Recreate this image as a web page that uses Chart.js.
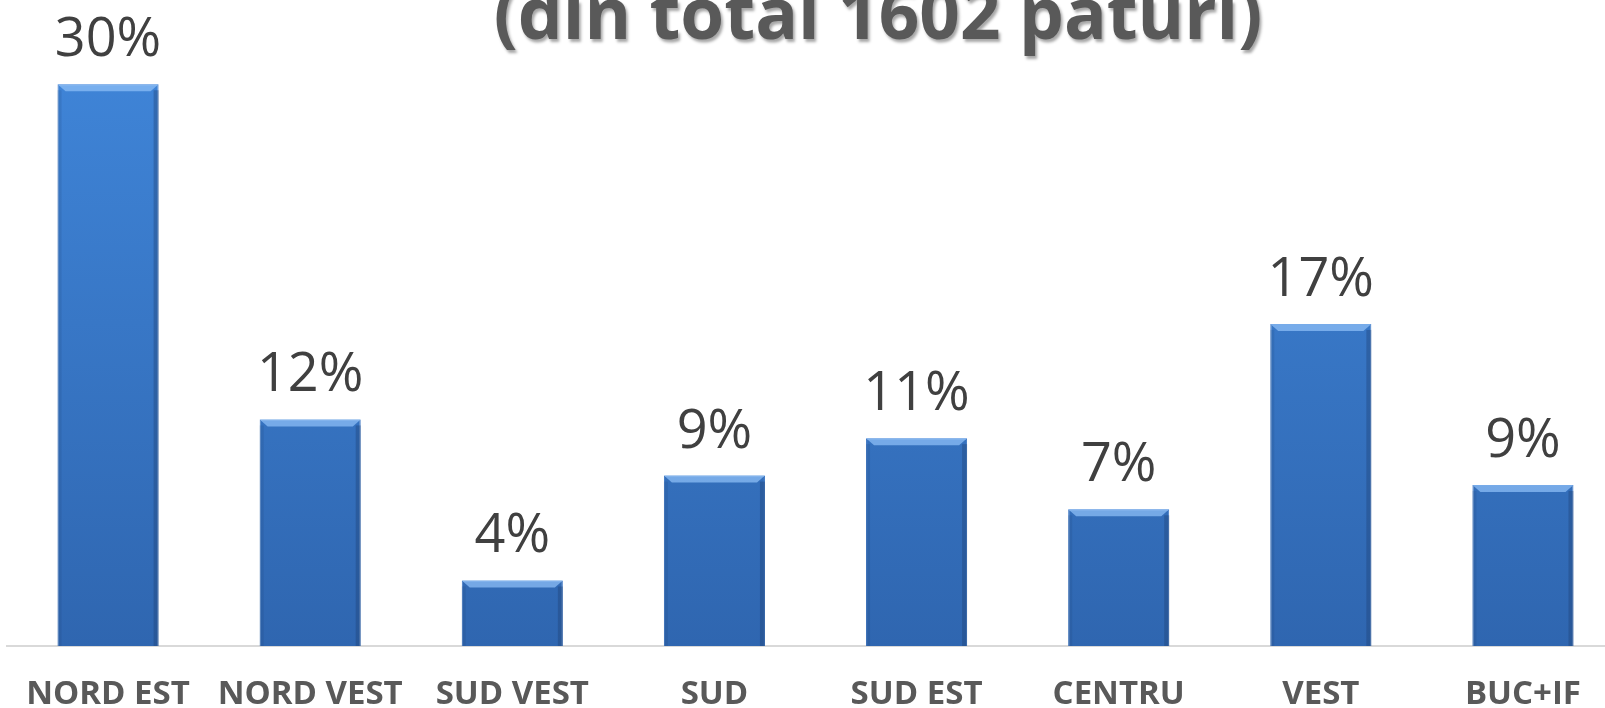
<!DOCTYPE html>
<html>
<head>
<meta charset="utf-8">
<script src="https://cdn.jsdelivr.net/npm/chart.js@4"></script>
<style>
    html, body { margin: 0; padding: 0; background: #fff; overflow: hidden; }
    #wrap { position: relative; width: 1624px; height: 708px; }
</style>
</head>
<body>
<div id="wrap"><canvas id="bedsChart"></canvas></div>
<script>
const regions = ["NORD EST", "NORD VEST", "SUD VEST", "SUD", "SUD EST", "CENTRU", "VEST", "BUC+IF"];
const shares = [30.0, 12.1, 3.5, 9.1, 11.1, 7.3, 17.2, 8.6];
const titleText = "(din total 1602 paturi)";

document.addEventListener("DOMContentLoaded", function() {
    const ctx = document.getElementById('bedsChart').getContext('2d');

    // title (cut off at the top in the original) + value labels above the bars
    const labelsPlugin = {
        id: 'barLabels',
        afterDatasetsDraw(chart) {
            const c = chart.ctx;
            const meta = chart.getDatasetMeta(0);
            c.save();
            // bevel highlight on each bar
            meta.data.forEach(function(bar) {
                const left = bar.x - bar.width / 2;
                const right = bar.x + bar.width / 2;
                c.fillStyle = 'rgba(140,190,245,0.75)';
                c.beginPath();
                c.moveTo(left, bar.y);
                c.lineTo(right, bar.y);
                c.lineTo(right - 8, bar.y + 7);
                c.lineTo(left + 8, bar.y + 7);
                c.closePath();
                c.fill();
                c.fillStyle = 'rgba(30,60,110,0.35)';
                c.fillRect(right - 5, bar.y + 6, 5, bar.base - bar.y - 6);
                c.fillStyle = 'rgba(30,60,110,0.15)';
                c.fillRect(left, bar.y + 6, 4, bar.base - bar.y - 6);
            });
            c.fillStyle = '#404040';
            c.font = '54px "Open Sans"';
            c.textAlign = 'center';
            c.textBaseline = 'alphabetic';
            meta.data.forEach(function(bar, i) {
                c.fillText(Math.round(shares[i]) + '%', bar.x, bar.y - 28);
            });
            c.font = 'bold 71px "Open Sans"';
            c.shadowColor = 'rgba(0,0,0,0.35)';
            c.shadowOffsetX = 2;
            c.shadowOffsetY = 3;
            c.shadowBlur = 3;
            c.fillStyle = '#595959';
            c.fillText(titleText, 878, 39);
            c.restore();
        }
    };

    const bedsChart = new Chart(ctx, {
        type: 'bar',
        data: {
            labels: regions,
            datasets: [{
                data: shares,
                backgroundColor: function(context) {
                    const area = context.chart.chartArea;
                    if (!area) return '#3b7dd0';
                    const g = context.chart.ctx.createLinearGradient(0, area.top, 0, area.bottom);
                    g.addColorStop(0, '#4188dc');
                    g.addColorStop(1, '#2f66b0');
                    return g;
                },
                borderColor: '#3a74c2',
                borderWidth: 1,
                barPercentage: 0.5,
                categoryPercentage: 1.0,
            }]
        },
        plugins: [labelsPlugin],
        options: {
            responsive: true,
            maintainAspectRatio: false,
            animation: false,
            layout: {
                padding: { left: 7, right: 0, top: 0, bottom: 0 }
            },
            scales: {
                x: {
                    grid: { display: false },
                    border: { display: true, color: '#d9d9d9', width: 2 },
                    ticks: {
                        color: '#595959',
                        padding: 21,
                        font: { family: 'Open Sans', size: 33, weight: 'bold' },
                    },
                    afterFit: function(scale) {
                        scale.height = 62;
                    },
                },
                y: {
                    display: false,
                    min: 0,
                    max: 34.5,
                },
            },
            plugins: {
                legend: { display: false },
                tooltip: { enabled: false },
            },
        },
    });
});
</script>
</body>
</html>
